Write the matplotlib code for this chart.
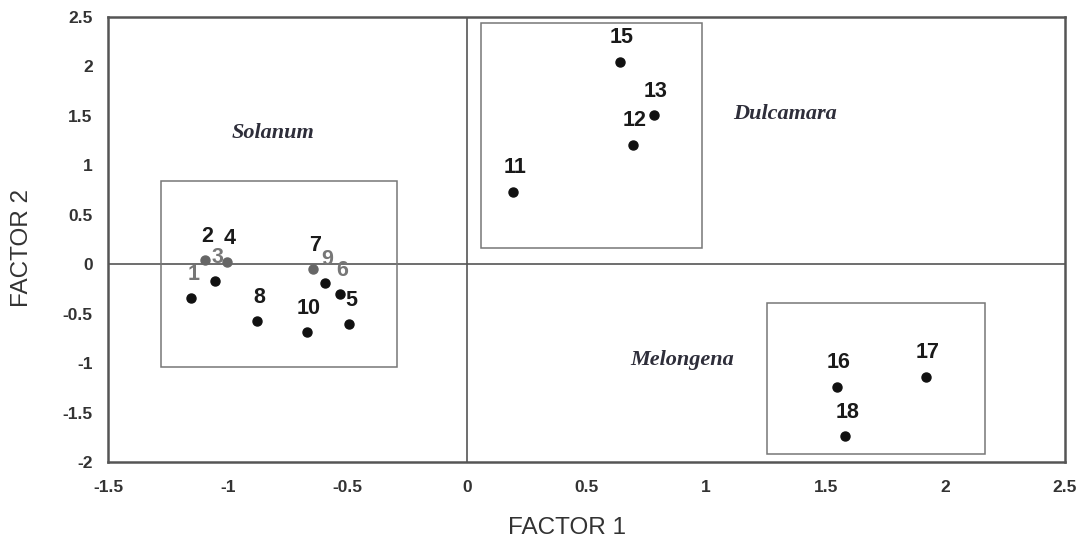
import matplotlib
matplotlib.use('Agg')
import matplotlib.pyplot as plt
from matplotlib.patches import Rectangle

plt.rcParams['font.family'] = ['Liberation Sans', 'DejaVu Sans']

# 樣本編號與因子得分
labels = ['1', '2', '3', '4', '5', '6', '7', '8', '9', '10',
          '11', '12', '13', '15', '16', '17', '18']
factor1 = [-1.152, -1.094, -1.052, -1.002, -0.493, -0.530, -0.643, -0.877, -0.593, -0.668,
           0.191, 0.694, 0.780, 0.640, 1.545, 1.919, 1.582]
factor2 = [-0.344, 0.040, -0.170, 0.020, -0.607, -0.303, -0.050, -0.576, -0.190, -0.688,
           0.731, 1.210, 1.507, 2.046, -1.241, -1.140, -1.739]

# 群組名稱、文字位置與外框 (x0, y0, x1, y1)
groups = ['Solanum', 'Dulcamara', 'Melongena']
group_text_x = [-0.81, 1.328, 0.898]
group_text_y = [1.277, 1.473, -1.021]
group_boxes = [(-1.278, -1.041, -0.292, 0.839),
               (0.061, 0.159, 0.984, 2.44),
               (1.256, -1.921, 2.167, -0.391)]

xticks = [-1.5, -1, -0.5, 0, 0.5, 1, 1.5, 2, 2.5]
xtick_labels = ['-1.5', '-1', '-0.5', '0', '0.5', '1', '1.5', '2', '2.5']
yticks = [-2, -1.5, -1, -0.5, 0, 0.5, 1, 1.5, 2, 2.5]
ytick_labels = ['-2', '-1.5', '-1', '-0.5', '0', '0.5', '1', '1.5', '2', '2.5']

# 掃描圖中較淡的點與標籤
faded_labels = {'1', '3', '6', '9'}
faded_points = {'2', '4', '7'}

fig = plt.figure(figsize=(10.9, 5.43), dpi=100)
ax = fig.add_axes([0.0991, 0.1492, 0.878, 0.8195])
ax.set_xlim(-1.5, 2.5)
ax.set_ylim(-2, 2.5)

# 座標軸零線
ax.axhline(0, color='#555555', linewidth=1.2, zorder=1)
ax.axvline(0, color='#555555', linewidth=1.2, zorder=1)

# 群組外框
for (x0, y0, x1, y1) in group_boxes:
    ax.add_patch(Rectangle((x0, y0), x1 - x0, y1 - y0, fill=False,
                           edgecolor='#777777', linewidth=1.1, zorder=1))

# 散佈點與編號
for lab, x, y in zip(labels, factor1, factor2):
    pc = '#666666' if lab in faded_points else '#111111'
    ax.plot(x, y, 'o', color=pc, markersize=6.5, zorder=3)
    tc = '#777777' if lab in faded_labels else '#1a1a1a'
    ax.annotate(lab, (x, y), xytext=(2, 24), textcoords='offset pixels',
                ha='center', va='center', fontsize=15.5, fontweight='bold',
                color=tc, zorder=4)

# 群組名稱
for name, x, y in zip(groups, group_text_x, group_text_y):
    ax.text(x, y, name, ha='center', va='baseline', fontsize=16,
            family='Liberation Serif', style='italic', fontweight='bold',
            color='#2e2e3a')

ax.set_xticks(xticks)
ax.set_xticklabels(xtick_labels, fontweight='bold')
ax.set_yticks(yticks)
ax.set_yticklabels(ytick_labels, fontweight='bold')
ax.tick_params(axis='both', length=0, labelsize=12.5, labelcolor='#333333')
ax.tick_params(axis='x', pad=13)
ax.tick_params(axis='y', pad=11)

for sp in ax.spines.values():
    sp.set_color('#555555')
    sp.set_linewidth(1.8)

fig.text(567 / 1090, 1 - 528 / 543, 'FACTOR 1', ha='center', va='center',
         fontsize=17.5, color='#333333')
fig.text(22 / 1090, 1 - 248 / 543, 'FACTOR 2', ha='center', va='center',
         rotation=90, fontsize=17.5, color='#333333')

fig.savefig('out.png', dpi=100)
